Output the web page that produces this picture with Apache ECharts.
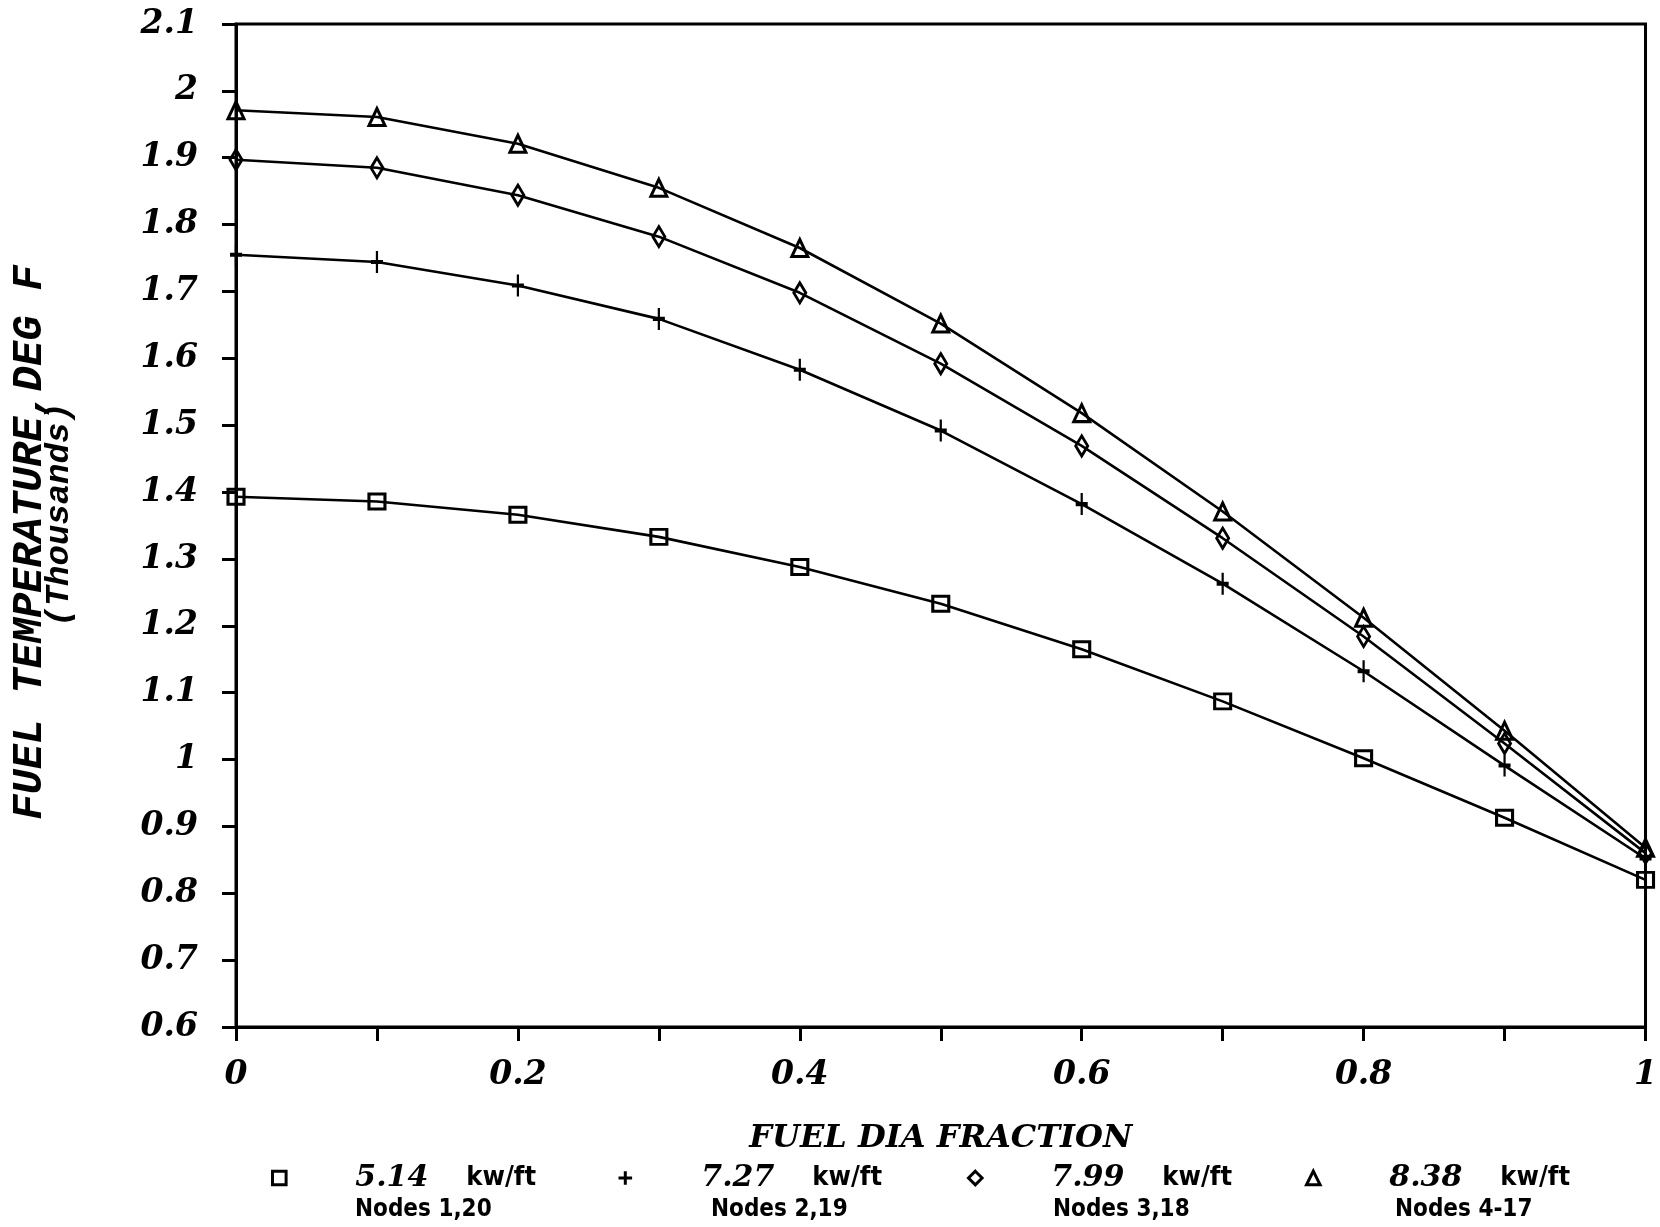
<!DOCTYPE html>
<html>
<head>
<meta charset="utf-8">
<script src="https://cdn.jsdelivr.net/npm/echarts@6/dist/echarts.min.js"></script>
<style>
  html, body { margin: 0; padding: 0; background: #fff; }
  #chart { width: 1660px; height: 1227px; }
</style>
</head>
<body>
<div id="chart"></div>
<script>
// fuel diameter fraction (x axis)
var diaFraction = [0, 0.1, 0.2, 0.3, 0.4, 0.5, 0.6, 0.7, 0.8, 0.9, 1];

// fuel temperature, thousands of deg F
var temp514 = [1.393, 1.386, 1.366, 1.333, 1.288, 1.233, 1.165, 1.087, 1.002, 0.913, 0.820];
var temp727 = [1.755, 1.744, 1.709, 1.659, 1.583, 1.492, 1.382, 1.263, 1.132, 0.991, 0.852];
var temp799 = [1.897, 1.885, 1.844, 1.782, 1.698, 1.592, 1.469, 1.331, 1.184, 1.024, 0.860];
var temp838 = [1.971, 1.961, 1.921, 1.855, 1.765, 1.652, 1.518, 1.371, 1.212, 1.043, 0.868];

var seriesNames = ["5.14 kw/ft", "7.27 kw/ft", "7.99 kw/ft", "8.38 kw/ft"];
var nodeLabels = ["Nodes 1,20", "Nodes 2,19", "Nodes 3,18", "Nodes 4-17"];

var myChart = echarts.init(document.getElementById("chart"));

var numFont = "'DejaVu Serif', serif";
var narrowFont = "'Liberation Sans Narrow', 'DejaVu Sans Condensed', sans-serif";
var monoFont = "'Liberation Mono', 'DejaVu Sans Mono', monospace";

function pairs(ys) {
    return diaFraction.map(function (x, i) { return [x, ys[i]]; });
}

var plusPath = "path://M0,0 L0,20 M-6,10 L6,10";
var symbols = ["rect", plusPath, "diamond", "triangle"];
var symbolSizes = [[16, 15], [12, 22], [12, 20], [16, 17]];
var values = [temp514, temp727, temp799, temp838];

var series = seriesNames.map(function (name, i) {
    return {
        name: name,
        type: "line",
        data: pairs(values[i]),
        symbol: symbols[i],
        symbolSize: symbolSizes[i],
        lineStyle: { color: "#000", width: 2.6 },
        itemStyle: { color: "transparent", borderColor: "#000", borderWidth: 3 },
        emphasis: { disabled: true },
        z: 3
    };
});

var legendLeft = [266, 612, 962, 1300];
var legends = seriesNames.map(function (name, i) {
    return {
        data: [name],
        left: legendLeft[i],
        top: 1158,
        itemWidth: 14,
        itemHeight: 17,
        selectedMode: false,
        lineStyle: { width: 0, opacity: 0 },
        itemStyle: { borderWidth: 3 },
        formatter: function (n) {
            var parts = n.split(" ");
            return "{sp|}{v|" + parts[0] + "}{g|}{u|" + parts[1] + "}";
        },
        textStyle: {
            rich: {
                sp: { width: 64 },
                v: { fontFamily: numFont, fontStyle: "italic", fontWeight: "bold", fontSize: 30, color: "#000" },
                g: { width: 38 },
                u: { fontFamily: narrowFont, fontWeight: "bold", fontSize: 27, color: "#000" }
            }
        }
    };
});

var nodeLeft = [355, 711, 1053, 1395];
var graphics = nodeLabels.map(function (t, i) {
    return {
        type: "text",
        left: nodeLeft[i],
        top: 1198,
        style: {
            text: t,
            font: "bold 24px " + narrowFont,
            fill: "#000"
        }
    };
});

option = {
    backgroundColor: "#fff",
    animation: false,
    grid: {
        left: 236,
        right: 8,
        top: 24,
        bottom: 200,
        show: true,
        borderColor: "#000",
        borderWidth: 3
    },
    legend: legends,
    graphic: graphics,
    xAxis: {
        type: "value",
        min: 0,
        max: 1,
        interval: 0.1,
        name: "FUEL DIA FRACTION",
        nameLocation: "middle",
        nameGap: 96,
        nameTextStyle: { fontFamily: numFont, fontStyle: "italic", fontWeight: "bold", fontSize: 32, color: "#000" },
        axisLine: { lineStyle: { color: "#000", width: 3 } },
        axisTick: { length: 14, lineStyle: { color: "#000", width: 3 } },
        splitLine: { show: false },
        axisLabel: {
            margin: 32,
            fontFamily: numFont,
            fontStyle: "italic",
            fontWeight: "bold",
            fontSize: 33,
            color: "#000",
            formatter: function (v) {
                var k = Math.round(v * 10);
                return k % 2 === 0 ? String(k / 10) : "";
            }
        }
    },
    yAxis: {
        type: "value",
        min: 0.6,
        max: 2.1,
        interval: 0.1,
        name: "{a|FUEL TEMPERATURE,DEG F}\n{b|(Thousands)}",
        nameLocation: "middle",
        nameGap: 164,
        nameTextStyle: {
            color: "#000",
            rich: {
                a: {
                    fontFamily: monoFont, fontStyle: "italic", fontWeight: "bold",
                    fontSize: 42, lineHeight: 32, color: "#000", padding: [0, 34, 0, 0]
                },
                b: {
                    fontFamily: monoFont, fontStyle: "italic", fontWeight: "bold",
                    fontSize: 34, lineHeight: 26, color: "#000", padding: [0, 0, 0, 22]
                }
            }
        },
        axisLine: { lineStyle: { color: "#000", width: 3 } },
        axisTick: { length: 14, lineStyle: { color: "#000", width: 3 } },
        splitLine: { show: false },
        axisLabel: {
            margin: 38,
            fontFamily: numFont,
            fontStyle: "italic",
            fontWeight: "bold",
            fontSize: 33,
            color: "#000",
            formatter: function (v) { return String(Math.round(v * 10) / 10); }
        }
    },
    series: series
};

option && myChart.setOption(option);
</script>
</body>
</html>
